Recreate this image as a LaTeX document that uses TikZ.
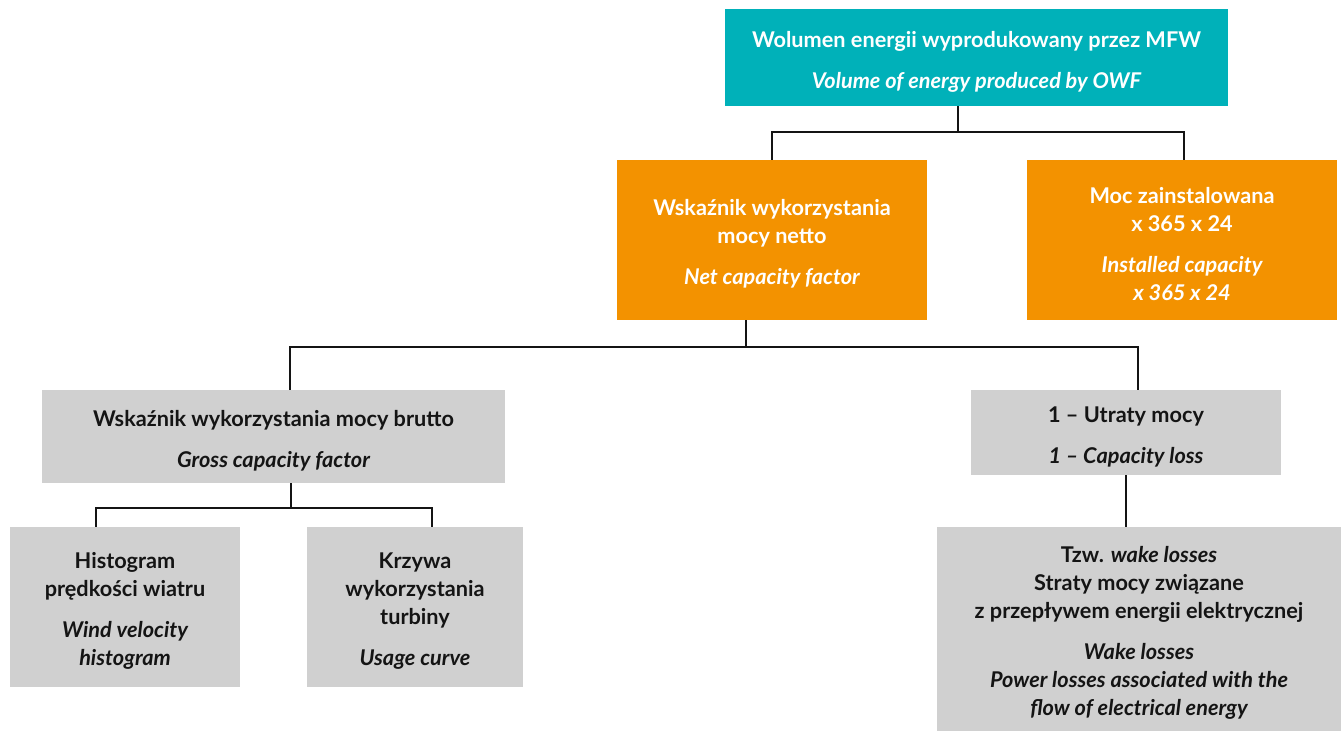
\documentclass[tikz,border=0pt]{standalone}
\usepackage{fontspec}
\setmainfont{Lato}
\definecolor{teal1}{RGB}{0,177,185}
\definecolor{orange1}{RGB}{243,146,0}
\definecolor{gray1}{RGB}{208,208,208}
\definecolor{ink}{RGB}{20,20,20}
\tikzset{
  box/.style={draw=none, inner sep=0pt, align=center, font=\fontsize{21.7}{28}\selectfont\bfseries},
  tealbox/.style={box, fill=teal1, text=white},
  orangebox/.style={box, fill=orange1, text=white},
  graybox/.style={box, fill=gray1, text=ink},
  wire/.style={draw=ink, line width=1.5pt},
}
\newcommand{\gapline}{\\[13pt]}
\newcommand{\lowr}{\rule{0pt}{24pt}}
\begin{document}
\begin{tikzpicture}[x=1pt,y=-1pt]
\useasboundingbox (0,0) rectangle (1341,731);
\node[tealbox, minimum width=503, minimum height=97] (top) at (976.5,57.5)
  {\lowr Wolumen energii wyprodukowany przez MFW\gapline\itshape Volume of energy produced by OWF};
\node[orangebox, minimum width=310, minimum height=160] (o1) at (772,240)
  {\lowr Wskaźnik wykorzystania\\mocy netto\gapline\itshape Net capacity factor};
\node[orangebox, minimum width=310, minimum height=160] (o2) at (1182,240)
  {\lowr Moc zainstalowana\\x 365 x 24\gapline\itshape Installed capacity\\\itshape x 365 x 24};
\node[graybox, minimum width=463, minimum height=93] (g1) at (273.5,436.5)
  {\lowr Wskaźnik wykorzystania mocy brutto\gapline\itshape Gross capacity factor};
\node[graybox, minimum width=310, minimum height=85] (g2) at (1126,432.5)
  {\lowr 1 – Utraty mocy\gapline\itshape 1 – Capacity loss};
\node[graybox, minimum width=230, minimum height=160] (h1) at (125,607)
  {\lowr Histogram\\prędkości wiatru\gapline\itshape Wind velocity\\\itshape histogram};
\node[graybox, minimum width=216, minimum height=160] (h2) at (415,607)
  {\lowr Krzywa\\wykorzystania\\turbiny\gapline\itshape Usage curve};
\node[graybox, minimum width=404, minimum height=204] (g3) at (1139,629)
  {\lowr Tzw. \textit{wake losses}\\Straty mocy związane\\z przepływem energii elektrycznej\gapline
   \itshape Wake losses\\\itshape Power losses associated with the\\\itshape flow of electrical energy};
% connectors
\draw[wire] ([xshift=-18.5pt]top.south) -- ++(0,26) coordinate (b1) -| (o1.north);
\draw[wire] (b1) -| ([xshift=2pt]o2.north);
\draw[wire] ([xshift=-26pt]o1.south) -- ++(0,27) coordinate (b2) -| ([xshift=16.5pt]g1.north);
\draw[wire] (b2) -| ([xshift=12pt]g2.north);
\draw[wire] ([xshift=17.5pt]g1.south) -- ++(0,25) coordinate (b3) -| ([xshift=-29pt]h1.north);
\draw[wire] (b3) -| ([xshift=17pt]h2.north);
\draw[wire] (g2.south) -- ([xshift=-13pt]g3.north);
\end{tikzpicture}
\end{document}
